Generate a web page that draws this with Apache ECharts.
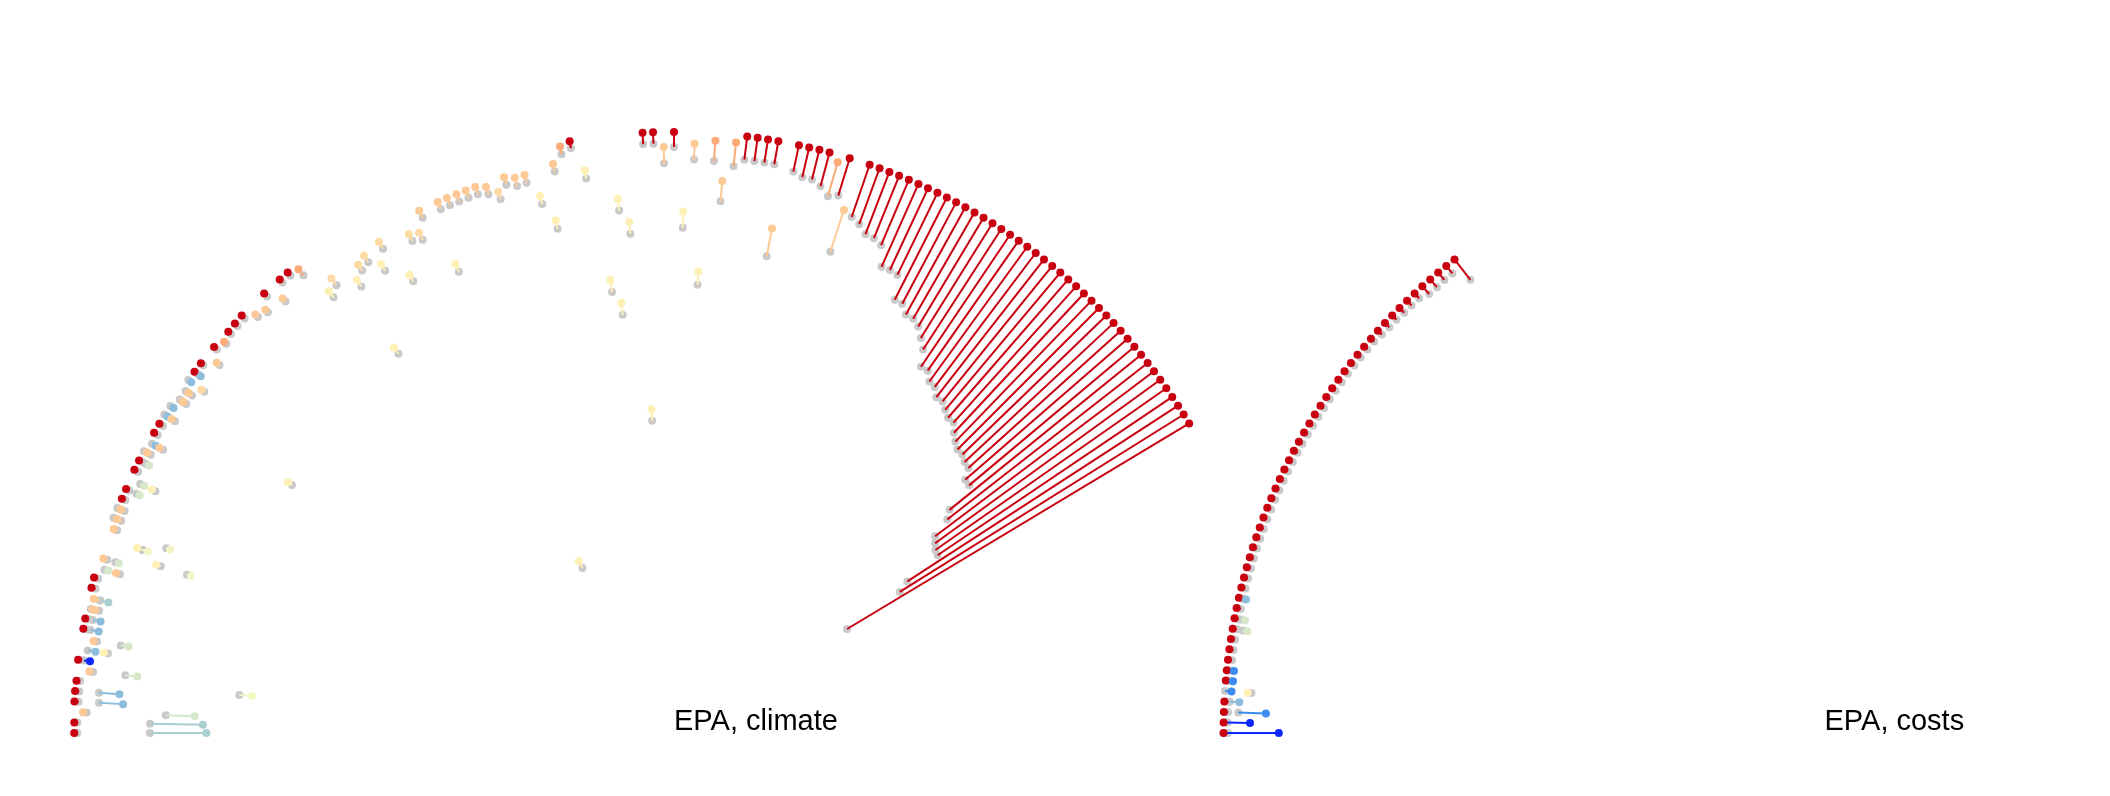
<!DOCTYPE html>
<html><head><meta charset="utf-8">
<script src="https://cdn.jsdelivr.net/npm/echarts@6/dist/echarts.min.js"></script>
<style>html,body{margin:0;padding:0;background:#fff}#chart{width:2110px;height:796px}</style>
</head><body><div id="chart"></div>
<script>
// ---- EPA, climate ----
const climAngle = [0,0,1,1,2,2,3,3,4,4,5,5,6,6,7,7,8,8,9,9,10,10,11,11,12,12,13,13,14,15,16,16,17,17,18,18,19,19,20,20,21,21,22,22,23,24,24,25,25,26,27,27,28,28,29,29,30,31,32,32,33,33,34,34,35,35,36,36,37,37,38,39,40,41,42,43,44,45,46,47,48,49,50,51,52,53,54,55,56,57,58,59,60,61,62,63,64,65,66,67,68,69,70,71,72,73,74,75,76,77,78,79,80,81,82,83,84,85,86,87,88,89,90,91,92,93,94,95,96,97,98,99,100,101,102,103,104,105,106,107,108,109,110,111,112,113,114,115,116,117,118,119,120,121,122,123,124,125,126,127,128,129,130,131,132,133,134,135,136,137,138,139,140,141,142,143,144,145,146,147,148,149];
const climBefore = [99.3,87.2,99.3,87.2,97.8,84.6,99.2,95.8,99.2,95.9,99.2,72.6,97.2,91.8,99.2,98.9,98.5,95.1,93.2,97.2,99.2,98.6,99.2,98.5,97.8,99.2,98.0,98.0,99.2,99.2,98.6,95.9,98.6,97.2,89.8,85.2,93.5,93.5,89.9,98.6,98.5,99.9,98.6,99.9,99.2,99.2,97.9,98.0,95.2,99.2,99.2,98.6,98.6,99.9,99.3,97.2,99.2,99.2,100,97.9,99.9,75.8,97.9,99.2,97.9,99.2,99.9,96.6,99.3,99.1,99.4,97.3,99.3,98.7,99.2,99.3,99.3,97.9,97.3,99.3,96.6,99.3,99.3,98.0,92.0,93.3,78.0,90.7,92.8,93.4,90.7,94.0,86.8,31.4,92.7,92.1,95.4,84.7,95.4,95.4,95.4,95.4,95.4,94.8,93.4,95.4,94.7,94.8,90.7,86.1,95.5,98.1,98.8,93.4,74.1,70.1,87.4,83.4,52.1,98.1,98.1,94.8,97.5,84.1,95.5,74.7,95.4,88.8,94.8,96.1,96.1,96.1,96.1,80.8,95.5,94.9,94.9,94.2,92.9,93.5,84.2,90.8,90.1,88.9,88.8,88.2,84.9,85.0,84.8,80.9,80.9,79.6,79.6,78.9,77.5,76.1,73.5,73.6,72.3,72.1,70.9,71.0,70.2,69.5,69.5,68.3,67.4,66.7,66.7,66.1,65.9,64.2,64.1,59.0,57.7,54.4,53.7,53.1,52.9,46.3,44.3,33.6];
const climAfter = [99.8,77.8,99.8,78.4,98.4,79.8,99.9,91.8,99.9,92.5,99.8,70.5,97.8,89.8,99.9,97.9,97.2,95.8,91.9,97.8,99.8,97.2,99.8,97.2,98.5,98.9,99.1,96.6,99.9,99.9,97.9,96.6,99.3,96.6,90.6,84.5,94.5,92.6,89.2,99.2,99.2,99.3,99.3,99.3,99.8,99.8,97.3,97.3,95.9,99.9,99.9,98.0,99.3,99.3,98.6,97.9,99.9,99.9,99.4,98.6,99.3,76.6,98.5,98.6,98.6,98.6,99.3,97.2,99.9,98.6,99.9,97.9,99.9,99.2,99.8,99.9,100,98.5,97.9,100,97.3,100,100,99.3,93.3,94.7,79.3,92.0,94.0,94.7,92.0,95.3,88.0,32.7,94.0,93.4,96.7,86.1,96.7,96.7,96.7,96.7,96.7,96.1,94.7,96.7,96.1,96.1,92.1,87.5,96.8,99.4,100,94.8,76.1,72.1,89.4,85.4,54.0,100,100,97.5,100,86.8,98.1,76.9,98.8,92.2,98.8,100,100,100,100,85.5,100,100,100,100,98.8,100,91.5,100,100,100,100,100,100,100,100,100,100,100,100,100,100,100,100,100,100,100,100,100,100,100,100,100,100,100,100,100,100,100,100,100,100,100,100,100,100,100,100,100];
const climLevel = [5,-2,5,-2,3,-1,5,-3,5,-3,5,0,3,-1,5,-5,-3,1,-1,3,5,-3,5,-3,3,3,3,-2,5,5,-1,3,3,-1,1,0,1,0,0,3,3,3,3,3,5,5,-1,-1,1,5,5,-1,3,3,-3,3,5,5,-3,3,-3,1,3,3,3,3,-3,2,5,-3,5,3,5,4,5,5,5,3,3,5,3,5,5,4,1,2,1,1,2,2,1,2,1,1,2,2,3,1,3,3,3,3,3,3,2,3,3,3,1,1,3,4,5,1,1,1,1,1,1,5,5,3,5,1,3,1,4,3,4,5,5,5,5,3,5,5,5,5,4,5,3,5,5,5,5,5,5,5,5,5,5,5,5,5,5,5,5,5,5,5,5,5,5,5,5,5,5,5,5,5,5,5,5,5,5,5,5,5,5,5,5,5];

// ---- EPA, costs ----
const costAngle = [0,0,1,1,2,2,3,3,4,4,5,5,6,6,7,8,9,10,10,11,11,12,13,13,14,15,16,17,18,19,20,21,22,23,24,25,26,27,28,29,30,31,32,33,34,35,36,37,38,39,40,41,42,43,44,45,46,47,48,49,50,51,52];
const costBefore = [99.3,99.6,99.3,99.6,99.3,97.6,99.3,99.1,100,95.6,99.3,99.6,99.3,99.6,99.3,99.3,99.3,99.3,98.3,99.3,98.9,99.3,99.3,99.3,99.3,99.3,99.3,99.3,99.3,99.3,99.3,99.3,99.3,99.3,99.3,99.3,99.3,99.3,99.3,99.3,99.3,99.3,99.3,99.3,99.3,99.3,99.3,99.3,99.3,99.3,99.3,99.3,99.1,99.0,99.0,98.9,98.9,98.9,98.3,98.3,98.4,98.4,95.7];
const costAfter = [100,90.8,100,95.6,100,93.0,100,97.5,98.9,96.2,100,98.8,100,98.8,100,100,100,100,97.5,100,98.2,100,100,98.8,100,100,100,100,100,100,100,100,100,100,100,100,100,100,100,100,100,100,100,100,100,100,100,100,100,100,100,100,100,100,100,100,100,100,100,100,100,100,100];
const costLevel = [5,-5,5,-5,5,-4,5,-3,-4,1,5,-4,5,-4,5,5,5,5,-1,5,-1,5,5,-3,5,5,5,5,5,5,5,5,5,5,5,5,5,5,5,5,5,5,5,5,5,5,5,5,5,5,5,5,5,5,5,5,5,5,5,5,5,5,5];

const panelTitles = ['EPA, climate', 'EPA, costs'];

// ---- styles ----
const levelColor = {
  '5': '#c9000f', '4': '#fcab78', '3': '#fdc994', '2': '#fedaa4', '1': '#fff0b6',
  '0': '#f4f5c4', '-1': '#d6e8c9', '-2': '#a9cfce', '-3': '#8cbddc', '-4': '#3c8cf0', '-5': '#0a28ff'
};
const GRAY = '#c9c9c9';
const CENTERS = [[674, 733], [1824.5, 733]];
const RADIUS = 601;

function rows(a, b, e, l) {
  return a.map((ang, i) => [b[i], ang, e[i], l[i]]);
}
const panels = [rows(climAngle, climBefore, climAfter, climLevel), rows(costAngle, costBefore, costAfter, costLevel)];

const series = [];
panels.forEach((data, pi) => {
  series.push({
    type: 'custom', coordinateSystem: 'polar', polarIndex: pi, z: 2, silent: true,
    data: data,
    renderItem: function (params, api) {
      const p0 = api.coord([api.value(0), api.value(1)]);
      const p1 = api.coord([api.value(2), api.value(1)]);
      return { type: 'line', shape: { x1: p0[0], y1: p0[1], x2: p1[0], y2: p1[1] },
        style: { stroke: levelColor[String(api.value(3))], lineWidth: 2 } };
    }
  });
  series.push({
    type: 'scatter', coordinateSystem: 'polar', polarIndex: pi, z: 1, silent: true,
    symbolSize: 8, itemStyle: { color: GRAY, opacity: 1 },
    data: data.map(d => [d[0], d[1]])
  });
  series.push({
    type: 'scatter', coordinateSystem: 'polar', polarIndex: pi, z: 3, silent: true,
    symbolSize: 8,
    itemStyle: { color: p => levelColor[String(p.data[2])], opacity: 1 },
    data: data.map(d => [d[2], d[1], d[3]])
  });
});

const chart = echarts.init(document.getElementById('chart'), null, { renderer: 'canvas' });
chart.setOption({
  animation: false,
  backgroundColor: '#ffffff',
  polar: CENTERS.map(c => ({ center: c, radius: RADIUS })),
  angleAxis: CENTERS.map((c, i) => ({ polarIndex: i, type: 'value', min: 0, max: 360, startAngle: 180, clockwise: true, show: false })),
  radiusAxis: CENTERS.map((c, i) => ({ polarIndex: i, type: 'value', min: 0, max: 100, show: false })),
  graphic: panelTitles.map((t, i) => ({
    type: 'text', left: CENTERS[i][0], top: CENTERS[i][1] - 26,
    style: { text: t, fontSize: 29, fontFamily: 'Liberation Sans, Arial, sans-serif', fill: '#000' }
  })),
  series: series
});
</script></body></html>
